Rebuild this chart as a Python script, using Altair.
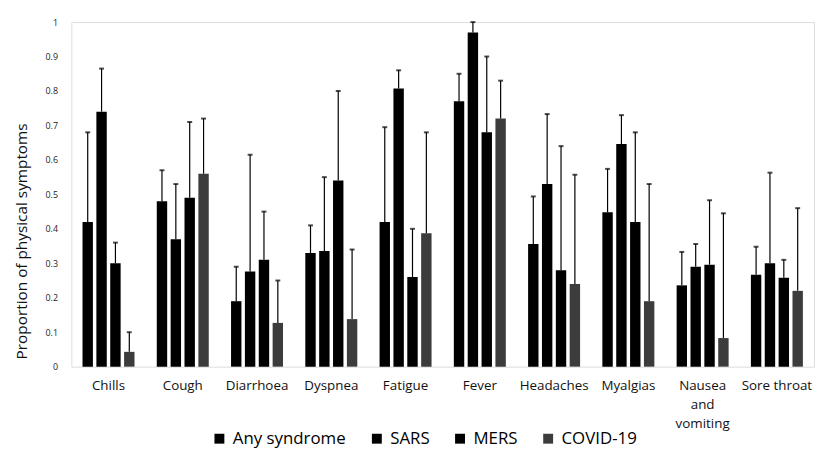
import altair as alt
import pandas as pd

categories = ["Chills", "Cough", "Diarrhoea", "Dyspnea", "Fatigue", "Fever",
              "Headaches", "Myalgias", "Nausea and vomiting", "Sore throat"]
series = ["Any syndrome", "SARS", "MERS", "COVID-19"]

any_val = [0.42, 0.48, 0.19, 0.33, 0.42, 0.77, 0.356, 0.448, 0.236, 0.267]
any_up = [0.68, 0.57, 0.29, 0.41, 0.695, 0.85, 0.494, 0.574, 0.333, 0.348]
sars_val = [0.74, 0.37, 0.276, 0.336, 0.807, 0.97, 0.53, 0.646, 0.29, 0.30]
sars_up = [0.865, 0.53, 0.615, 0.55, 0.86, 1.0, 0.733, 0.73, 0.356, 0.563]
mers_val = [0.30, 0.49, 0.31, 0.54, 0.26, 0.68, 0.28, 0.42, 0.296, 0.258]
mers_up = [0.36, 0.71, 0.45, 0.80, 0.40, 0.90, 0.64, 0.68, 0.483, 0.31]
covid_val = [0.043, 0.56, 0.127, 0.138, 0.387, 0.72, 0.24, 0.19, 0.083, 0.22]
covid_up = [0.10, 0.72, 0.25, 0.34, 0.68, 0.83, 0.557, 0.53, 0.445, 0.46]
y_ticks = [0, 0.1, 0.2, 0.3, 0.4, 0.5, 0.6, 0.7, 0.8, 0.9, 1]

rows = []
for s, vals, ups in zip(series, [any_val, sars_val, mers_val, covid_val],
                        [any_up, sars_up, mers_up, covid_up]):
    for c, v, u in zip(categories, vals, ups):
        rows.append({"symptom": c, "group": s, "value": v, "upper": u})
df = pd.DataFrame(rows)

FONT = "Open Sans"

x_enc = alt.X("symptom:N", sort=categories,
              scale=alt.Scale(paddingInner=0.3, paddingOuter=0.15),
              axis=alt.Axis(title=None, labelAngle=0, domain=False, ticks=False,
                            labelPadding=12, labelFontSize=13.5, labelColor="#111",
                            labelFont=FONT, labelLineHeight=19,
                            labelExpr="datum.label == 'Nausea and vomiting' ? ['Nausea','and','vomiting'] : datum.label"))
xoff = alt.XOffset("group:N", sort=series, scale=alt.Scale(paddingInner=0.25))
color = alt.Color("group:N", sort=series,
                  scale=alt.Scale(domain=series, range=["#000000", "#000000", "#000000", "#3c3c3c"]),
                  legend=alt.Legend(title=None, orient="none", direction="horizontal",
                                    legendX=141, legendY=412, symbolType="square",
                                    symbolSize=100, labelFontSize=17, labelFont=FONT,
                                    labelColor="#000", columnPadding=22, labelOffset=5,
                                    symbolOpacity=1))

y_scale = alt.Scale(domain=[0, 1], nice=False)
y_axis = alt.Axis(title="Proportion of physical symptoms", values=y_ticks,
                  format=".1~f", domain=False, ticks=False, grid=False,
                  labelOverlap=False,
                  labelFontSize=9, labelColor="#222", labelFont=FONT, labelPadding=14,
                  titleFont=FONT, titleFontSize=15.5, titleFontWeight="normal",
                  titleColor="#111", titleAngle=270, titleAlign="center",
                  titleBaseline="middle", titleX=-50, titleY=221)

base = alt.Chart(df)
bars = base.mark_bar(opacity=1).encode(
    x=x_enc, xOffset=xoff,
    y=alt.Y("value:Q", scale=y_scale, axis=y_axis), color=color)
rules = base.mark_rule(color="#000", strokeWidth=1.2).encode(
    x=x_enc, xOffset=xoff,
    y=alt.Y("value:Q", scale=y_scale, axis=y_axis), y2="upper:Q")
caps = base.mark_tick(color="#000", size=5, thickness=2, orient="horizontal").encode(
    x=x_enc, xOffset=xoff,
    y=alt.Y("upper:Q", scale=y_scale, axis=y_axis))

chart = alt.layer(bars, rules, caps).properties(
    width=750, height=348,
    padding={"left": 64, "top": 12, "right": 2, "bottom": 88},
    autosize=alt.AutoSizeParams(type="none"),
).configure_view(stroke=None).configure(background="white")

chart.save("out.html", embed_options={"renderer": "svg", "actions": False})
